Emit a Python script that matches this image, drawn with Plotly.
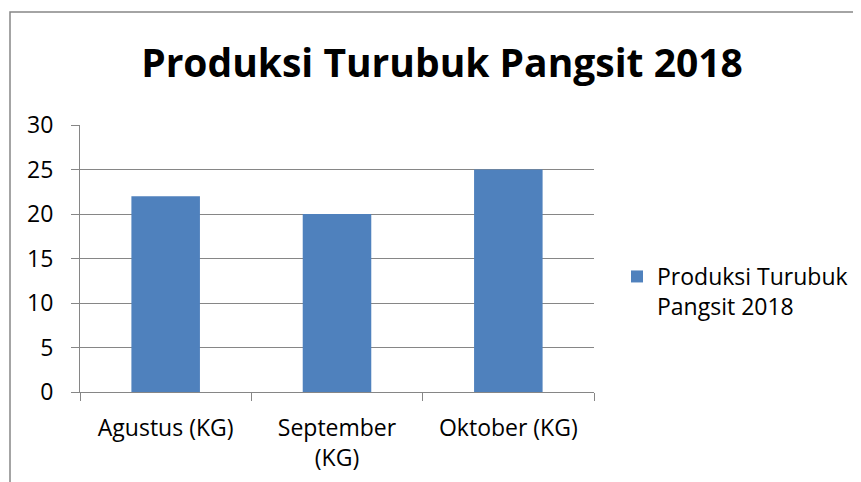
import plotly.graph_objects as go

categories = ["Agustus (KG)", "September<br>(KG)", "Oktober (KG)"]
values = [22, 20, 25]
series_name = "Produksi Turubuk<br>Pangsit 2018"
title_text = "Produksi Turubuk Pangsit 2018"
y_ticks = [0, 5, 10, 15, 20, 25, 30]

FONT = "'Open Sans', sans-serif"
W, H = 861, 482
OFF = 8  # page body margin
# plot area in page pixels
PX0, PX1, PY0, PY1 = 80, 594, 125, 392
L = PX0 - OFF
R = W - (PX1 - OFF)
T = PY0 - OFF
B = H - (PY1 - OFF)
pw, ph = PX1 - PX0, PY1 - PY0


def px_x(x):
    return (x - PX0) / pw


def px_y(y):
    return (PY1 - y) / ph


fig = go.Figure()
fig.add_trace(go.Bar(x=categories, y=values, name=series_name,
                     marker=dict(color="#4F81BD", line=dict(width=0)),
                     showlegend=True))

fig.update_layout(
    width=W, height=H,
    margin=dict(l=L, r=R, t=T, b=B),
    paper_bgcolor="white", plot_bgcolor="white",
    bargap=0.6,
    title=dict(text=f"<b>{title_text}</b>", x=(442 - OFF) / W, xanchor="center",
               y=1 - (63 - OFF) / H, yanchor="middle",
               font=dict(family=FONT, size=39, color="black")),
    font=dict(family=FONT, size=23, color="black"),
    xaxis=dict(showline=True, linecolor="#868686", linewidth=1,
               ticks="outside", tickson="boundaries", ticklen=8,
               tickcolor="#868686", showgrid=False,
               tickfont=dict(size=23, color="black"), ticklabelstandoff=15),
    yaxis=dict(range=[0, 30], tickvals=y_ticks, showline=True,
               linecolor="#868686", linewidth=1, ticks="outside",
               ticklen=8, tickcolor="#868686", showgrid=True,
               gridcolor="#868686", gridwidth=1, zeroline=False,
               tickfont=dict(size=23, color="black"), ticklabelstandoff=13),
    legend=dict(x=px_x(617), y=px_y(255), yanchor="top", xanchor="left",
                valign="top",
                font=dict(size=23, color="black"), bgcolor="rgba(0,0,0,0)"),
    shapes=[dict(type="rect", xref="paper", yref="paper",
                 x0=px_x(10), x1=px_x(858), y0=px_y(12), y1=px_y(495),
                 line=dict(color="#868686", width=1.5), fillcolor="rgba(0,0,0,0)",
                 layer="below")],
)

fig.write_html("out.html")
